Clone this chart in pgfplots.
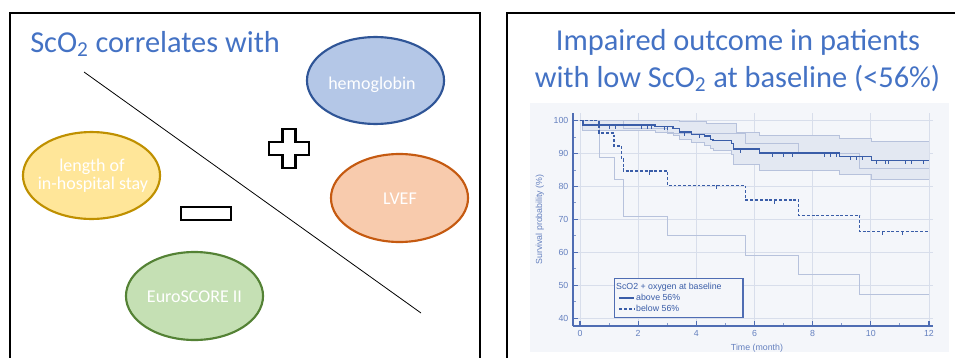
\documentclass[border=0pt]{standalone}
\usepackage{pgfplots}
\pgfplotsset{compat=1.18}
\usepackage{fontspec}
\setmainfont{Carlito}
\newfontfamily\chartfont{Liberation Sans}
\definecolor{ttl}{HTML}{4472C4}
\definecolor{hbfill}{HTML}{B4C7E7}\definecolor{hbdraw}{HTML}{2F5597}
\definecolor{lvfill}{HTML}{F8CBAD}\definecolor{lvdraw}{HTML}{C55A11}
\definecolor{lofill}{HTML}{FFE699}\definecolor{lodraw}{HTML}{BF9000}
\definecolor{eufill}{HTML}{C5E0B4}\definecolor{eudraw}{HTML}{548235}
\definecolor{kmbg}{HTML}{F4F6FA}
\definecolor{kmline}{HTML}{3A5DA8}
\definecolor{kmci}{HTML}{B7C2DC}
\definecolor{kmband}{HTML}{E3E8F2}
\definecolor{kmgrid}{HTML}{D8DEEB}
\definecolor{kmaxis}{HTML}{4F6DB3}
\definecolor{kmtext}{HTML}{6480BF}
\begin{document}
\begin{tikzpicture}
\path[use as bounding box] (0,0) rectangle (716.25pt,-267.75pt);
\clip (0,0) rectangle (716.25pt,-267.75pt);
\begin{scope}[x=0.75pt,y=-0.75pt]
 % panels
 \draw[black, line width=1.2pt] (10,13) rectangle (480,380);
 \draw[black, line width=1.2pt] (507,13) rectangle (990,380);
 \fill[kmbg] (530,103) rectangle (949,352);
 % left title
 \node[anchor=base west, text=ttl, font=\fontsize{22.8}{27}\selectfont, inner sep=0pt] at (30,52) {ScO\textsubscript{2} correlates with};
 % diagonal
 \draw[black, line width=0.6pt] (84,72) -- (421,313);
 % ellipses
 \draw[hbdraw, fill=hbfill, line width=1.6pt] (375.5,80.5) ellipse [x radius=51.4pt, y radius=32.6pt];
 \draw[lvdraw, fill=lvfill, line width=1.6pt] (399.5,198) ellipse [x radius=51.4pt, y radius=33pt];
 \draw[lodraw, fill=lofill, line width=1.6pt] (91.5,175.5) ellipse [x radius=51.4pt, y radius=32.6pt];
 \draw[eudraw, fill=eufill, line width=1.6pt] (194.5,296) ellipse [x radius=51.4pt, y radius=33pt];
 \begin{scope}[every node/.style={text=white, font=\fontsize{13.5}{16}\selectfont, inner sep=0pt, anchor=center}]
  \node at (372,85) {hemoglobin};
  \node at (400,198.5) {LVEF};
  \node at (92,167) {length of};
  \node at (93,185) {in-hospital stay};
  \node at (194.5,297) {EuroSCORE II};
 \end{scope}
 % plus and minus
 \draw[black, fill=white, line width=1.6pt] (282.5,129) -- (295.5,129) -- (295.5,142) -- (309,142) -- (309,155) -- (295.5,155) -- (295.5,168) -- (282.5,168) -- (282.5,155) -- (269,155) -- (269,142) -- (282.5,142) -- cycle;
 \draw[black, fill=white, line width=1.6pt] (181,207) rectangle (231,220);
 % right title
 \node[anchor=base, text=ttl, font=\fontsize{22.8}{27}\selectfont, inner sep=0pt] at (738,50) {Impaired outcome in patients};
 \node[anchor=base, text=ttl, font=\fontsize{22.8}{27}\selectfont, inner sep=0pt] at (737.5,87.5) {with low ScO\textsubscript{2} at baseline (<56\%)};
\end{scope}
\begin{axis}[
 at={(429.75pt,-244.5pt)}, anchor=south west,
 scale only axis, width=270pt, height=159.75pt,
 xmin=-0.24, xmax=12.14, ymin=37.6, ymax=102.3,
 axis x line*=bottom, axis y line*=left,
 axis line style={kmaxis, line width=1.1pt},
 xtick={0,2,...,12}, ytick={40,50,...,100},
 minor x tick num=1, minor y tick num=1,
 tick align=inside,
 major tick length=4pt, minor tick length=2pt,
 major tick style={kmaxis, line width=0.9pt},
 minor tick style={kmaxis!70, line width=0.6pt},
 grid=major, major grid style={kmgrid, line width=0.6pt},
 /pgf/number format/assume math mode=true,
 ticklabel style={font=\chartfont\fontsize{6.6}{8}\selectfont, text=kmtext},
 xlabel={Time (month)}, ylabel={Survival probability (\%)},
 label style={font=\chartfont\fontsize{6.6}{8}\selectfont, text=kmtext},
 xlabel style={at={(axis description cs:0.511,-0.103)}, anchor=center},
 ylabel style={at={(axis description cs:-0.092,0.5)}, anchor=center},
 legend image code/.code={\draw[#1] (0pt,0pt) -- (11pt,0pt);},
 legend style={at={(axis description cs:0.114,0.225)}, anchor=north west,
   draw=kmaxis, line width=1pt, fill=kmbg, font=\chartfont\fontsize{6.6}{8}\selectfont,
   text=kmline, inner xsep=3pt, inner ysep=2pt, row sep=0pt,
   nodes={inner sep=1pt}, cells={anchor=west}},
]
% CI band of the above-56% group
\addplot[fill=kmband, draw=none, forget plot] coordinates {
 (0,100) (3.43,100) (3.43,99.6) (4.35,99.6) (4.35,99.0) (5.38,99.0) (5.38,96.5) (6.18,96.5) (6.18,95.35) (8.93,95.35) (8.93,94.6) (10.02,94.6) (10.02,93.6) (12,93.6)
 (12,82.0) (10.02,82.0) (10.02,83.5) (8.93,83.5) (8.93,84.8) (6.18,84.8) (6.18,86.8) (5.27,86.8) (5.27,89.8) (5.21,89.8) (5.21,90.8) (4.58,90.8) (4.58,91.4) (4.49,91.4) (4.49,92.6) (4.29,92.6) (4.29,93.3) (3.84,93.3) (3.84,94.4) (3.43,94.4) (3.43,95.6) (3.2,95.6) (3.2,96.5) (2.58,96.5) (2.58,97.0) (0.1,97.0) (0.1,100) (0,100)} -- cycle;
% CI lines
\addplot[kmci, line width=0.6pt, const plot, forget plot] coordinates {
 (0,100) (3.43,99.6) (4.35,99.0) (5.38,96.5) (6.18,95.35) (8.93,94.6) (10.02,93.6) (12,93.6)};
\addplot[kmci, line width=0.6pt, const plot, forget plot] coordinates {
 (0,100) (0.1,97.0) (2.58,96.5) (3.2,95.6) (3.43,94.4) (3.84,93.3) (4.29,92.6) (4.49,91.4) (4.58,90.8) (5.21,89.8) (5.27,86.8) (6.18,84.8) (8.93,83.5) (10.02,82.0) (12,82.0)};
\addplot[kmci, line width=0.6pt, const plot, forget plot] coordinates {
 (0,100) (1.49,97.5) (3.01,96.0) (5.69,93.2) (7.52,90.1) (9.62,85.5) (12,85.5)};
\addplot[kmci, line width=0.6pt, const plot, forget plot] coordinates {
 (0,100) (0.66,88.9) (1.17,82.0) (1.49,70.9) (3.01,65.0) (5.69,59.0) (7.52,53.2) (9.62,47.3) (12,47.3)};
% survival curves
\addplot[kmline, line width=1.1pt, const plot, forget plot] coordinates {
 (0,100) (0.1,98.6) (2.58,98.2) (3.2,97.6) (3.43,96.6) (3.84,95.8) (4.29,95.3) (4.49,94.3) (4.58,93.9) (5.21,93.1) (5.27,91.4) (6.18,90.1) (8.93,89.1) (10.02,87.8) (12,87.8)};
\addplot[kmline, line width=1.1pt, const plot, dash pattern=on 2.2pt off 1.4pt, forget plot] coordinates {
 (0,100) (0.66,96.2) (1.17,92.3) (1.43,88.3) (1.49,84.7) (3.01,80.3) (5.69,75.9) (7.52,71.2) (9.62,66.3) (12,66.3)};
% censoring marks
\addplot[only marks, mark=|, mark size=1.6pt, kmline, mark options={line width=0.5pt, yshift=-1.2pt}, forget plot] coordinates {
 (1.0,98.6) (1.2,98.6) (2.1,98.6) (2.3,98.6) (2.45,98.6) (2.9,98.2) (3.0,98.2) (3.6,96.6) (4.1,95.8) (5.5,91.4) (6.6,90.1) (7.0,90.1) (7.3,90.1) (8.4,90.1) (8.6,90.1) (8.8,90.1) (9.3,89.1) (9.5,89.1) (9.7,89.1) (10.2,87.8) (10.5,87.8) (10.6,87.8) (11.2,87.8) (11.4,87.8) (11.8,87.8)};
\addplot[only marks, mark=|, mark size=1.6pt, kmline, mark options={line width=0.5pt, yshift=-1.2pt}, forget plot] coordinates {
 (2.4,84.7) (4.7,80.3) (6.7,75.9) (10.4,66.3) (11.1,66.3)};
% legend
\addlegendimage{empty legend}
\addlegendentry{\makebox[76pt][l]{\hspace*{-15pt}ScO2 + oxygen at baseline}}
\addlegendimage{kmline, line width=1.1pt}
\addlegendentry{above 56\%}
\addlegendimage{kmline, line width=1.1pt, dash pattern=on 2.2pt off 1.4pt}
\addlegendentry{below 56\%}
\end{axis}
\end{tikzpicture}
\end{document}
